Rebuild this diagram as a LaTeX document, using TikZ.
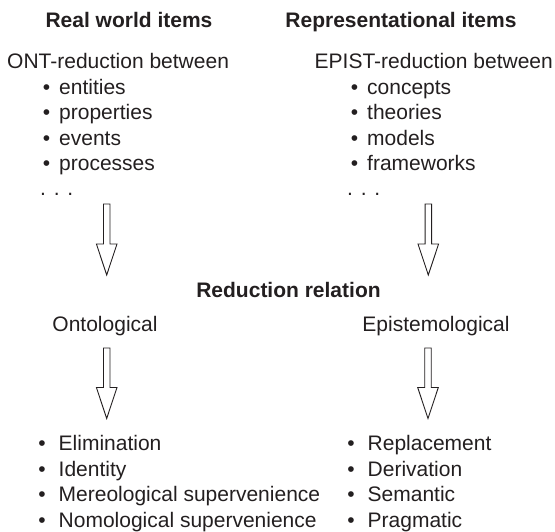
\documentclass[tikz,border=0pt]{standalone}
\usepackage{fontspec}
\setmainfont{Liberation Sans}
\usepackage{xcolor}
\usepackage{tikz}
\usetikzlibrary{positioning, calc}
\definecolor{ink}{RGB}{35,31,32}

\newcommand{\bul}[1][9pt]{\llap{\textbullet\hspace{#1}}}
\newcommand{\hollowarrow}[2]{%
  \draw[bigarrow] ($(#1)+(-3.25,0)$) -- ($(#2)+(-3.25,31)$) -- ($(#2)+(-10.3,31)$) -- (#2)
    -- ($(#2)+(10.3,31)$) -- ($(#2)+(3.25,31)$) -- ($(#1)+(3.25,0)$) -- cycle;}

\tikzset{
  entry/.style={inner sep=0pt, text height=18pt, text depth=7pt, text=ink},
  title/.style={inner sep=0pt, text=ink, font=\fontsize{21}{25}\selectfont\bfseries},
  bigarrow/.style={draw=ink, line width=0.9pt, fill=white},
}

\begin{document}
\begin{tikzpicture}[x=1pt, y=1pt, font=\fontsize{21}{25}\selectfont]
    \useasboundingbox (0,0) rectangle (555,532);

    % column titles
    \node (real_title) [title, anchor=base] at (129,504) {Real world items};
    \node (repr_title) [title, anchor=base] at (401,504) {Representational items};

    % ontological items
    \node (ont_head) [entry, anchor=base west] at (7,463) {ONT-reduction between};
    \node (entities) [entry, below right=0pt and 52pt of ont_head.south west] {\bul entities};
    \node (properties) [entry, below=0pt of entities.south west, anchor=north west] {\bul properties};
    \node (events) [entry, below=0pt of properties.south west, anchor=north west] {\bul events};
    \node (processes) [entry, below=0pt of events.south west, anchor=north west] {\bul processes};
    \node (ont_dots) [entry, below=0pt of processes.south west, anchor=north west, xshift=-19pt] {. . .};

    % epistemological items
    \node (epist_head) [entry, anchor=base west] at (314.5,463) {EPIST-reduction between};
    \node (concepts) [entry, below right=0pt and 52.5pt of epist_head.south west] {\bul concepts};
    \node (theories) [entry, below=0pt of concepts.south west, anchor=north west] {\bul theories};
    \node (models) [entry, below=0pt of theories.south west, anchor=north west] {\bul models};
    \node (frameworks) [entry, below=0pt of models.south west, anchor=north west] {\bul frameworks};
    \node (epist_dots) [entry, below=0pt of frameworks.south west, anchor=north west, xshift=-20pt] {. . .};

    % reduction relation
    \node (reduction) [title, anchor=base] at (288.5,234) {Reduction relation};
    \node (ontological) [entry, anchor=base] at (105,200) {Ontological};
    \node (epistemological) [entry, anchor=base] at (436,200) {Epistemological};

    % kinds of reduction
    \node (elimination) [entry, anchor=base west] at (58.5,81) {\bul[13pt]Elimination};
    \node (identity) [entry, below=0pt of elimination.south west, anchor=north west] {\bul[13pt]Identity};
    \node (mereological) [entry, below=0pt of identity.south west, anchor=north west] {\bul[13pt]Mereological supervenience};
    \node (nomological) [entry, below=0pt of mereological.south west, anchor=north west] {\bul[13pt]Nomological supervenience};

    \node (replacement) [entry, anchor=base west] at (367.5,81) {\bul[13pt]Replacement};
    \node (derivation) [entry, below=0pt of replacement.south west, anchor=north west] {\bul[13pt]Derivation};
    \node (semantic) [entry, below=0pt of derivation.south west, anchor=north west] {\bul[13pt]Semantic};
    \node (pragmatic) [entry, below=0pt of semantic.south west, anchor=north west] {\bul[13pt]Pragmatic};

    % arrows
    \coordinate (real_top) at (106.7,328);
    \coordinate (real_tip) at (106.7,257);
    \coordinate (repr_top) at (428.3,328);
    \coordinate (repr_tip) at (428.3,257);
    \coordinate (ont_top) at (106.7,184);
    \coordinate (ont_tip) at (106.7,113.5);
    \coordinate (epist_top) at (428,184);
    \coordinate (epist_tip) at (428,113.5);
    \hollowarrow{real_top}{real_tip}
    \hollowarrow{repr_top}{repr_tip}
    \hollowarrow{ont_top}{ont_tip}
    \hollowarrow{epist_top}{epist_tip}
\end{tikzpicture}
\end{document}
